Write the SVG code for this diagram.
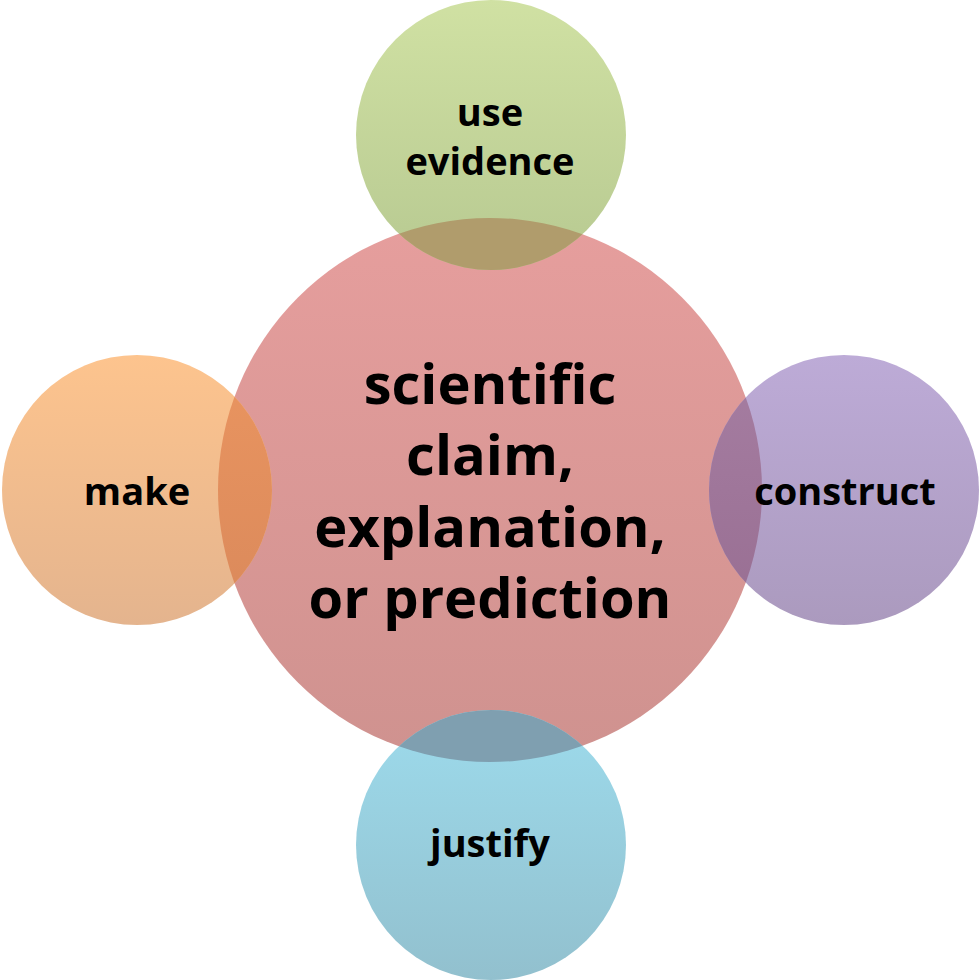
<svg xmlns="http://www.w3.org/2000/svg" width="980" height="980" viewBox="0 0 980 980">
<style>
text{font-family:"Open Sans","Liberation Sans",sans-serif;font-weight:700;fill:#000;text-anchor:middle}
.big{font-size:56px}
.sm{font-size:38px}
</style>
<defs>
<linearGradient id="gC" x1="0" y1="0" x2="0" y2="1"><stop offset="0" stop-color="#E69E9D"/><stop offset="1" stop-color="#CF928F"/></linearGradient>
<linearGradient id="gG" x1="0" y1="0" x2="0" y2="1"><stop offset="0" stop-color="#D0E1A3"/><stop offset="1" stop-color="#B7C991"/></linearGradient>
<linearGradient id="gO" x1="0" y1="0" x2="0" y2="1"><stop offset="0" stop-color="#FDC48E"/><stop offset="1" stop-color="#E4B48E"/></linearGradient>
<linearGradient id="gP" x1="0" y1="0" x2="0" y2="1"><stop offset="0" stop-color="#BDABD7"/><stop offset="1" stop-color="#AB9ABE"/></linearGradient>
<linearGradient id="gB" x1="0" y1="0" x2="0" y2="1"><stop offset="0" stop-color="#9DDBEC"/><stop offset="1" stop-color="#92C0CE"/></linearGradient>
<linearGradient id="gLo" x1="0" y1="0" x2="0" y2="1"><stop offset="0" stop-color="#EA9560"/><stop offset="1" stop-color="#DA895B"/></linearGradient>
<linearGradient id="gRo" x1="0" y1="0" x2="0" y2="1"><stop offset="0" stop-color="#A67EA2"/><stop offset="1" stop-color="#986E92"/></linearGradient>
<clipPath id="clipC"><circle cx="490" cy="490" r="272"/></clipPath>
</defs>
<g id="center">
<circle cx="490" cy="490" r="272" fill="url(#gC)"/>
</g>
<g id="top">
<circle cx="491" cy="135" r="135" fill="url(#gG)"/>
<circle cx="491" cy="135" r="135" fill="#B09C6C" clip-path="url(#clipC)"/>
<text class="sm" x="490" y="126">use</text>
<text class="sm" x="490" y="175">evidence</text>
</g>
<g id="left">
<circle cx="137" cy="490" r="135" fill="url(#gO)"/>
<circle cx="137" cy="490" r="135" fill="url(#gLo)" clip-path="url(#clipC)"/>
<text class="sm" x="137" y="505">make</text>
</g>
<g id="right">
<circle cx="844" cy="490" r="135" fill="url(#gP)"/>
<circle cx="844" cy="490" r="135" fill="url(#gRo)" clip-path="url(#clipC)"/>
<text class="sm" x="845" y="505">construct</text>
</g>
<g id="bottom">
<circle cx="491" cy="845" r="135" fill="url(#gB)"/>
<circle cx="491" cy="845" r="135" fill="#7F9FB0" clip-path="url(#clipC)"/>
<text class="sm" x="490" y="857">justify</text>
</g>
<g id="center-label">
<text class="big" x="490" y="404">scientific</text>
<text class="big" x="490" y="475">claim,</text>
<text class="big" x="490" y="547">explanation,</text>
<text class="big" x="490" y="618">or prediction</text>
</g>
</svg>
